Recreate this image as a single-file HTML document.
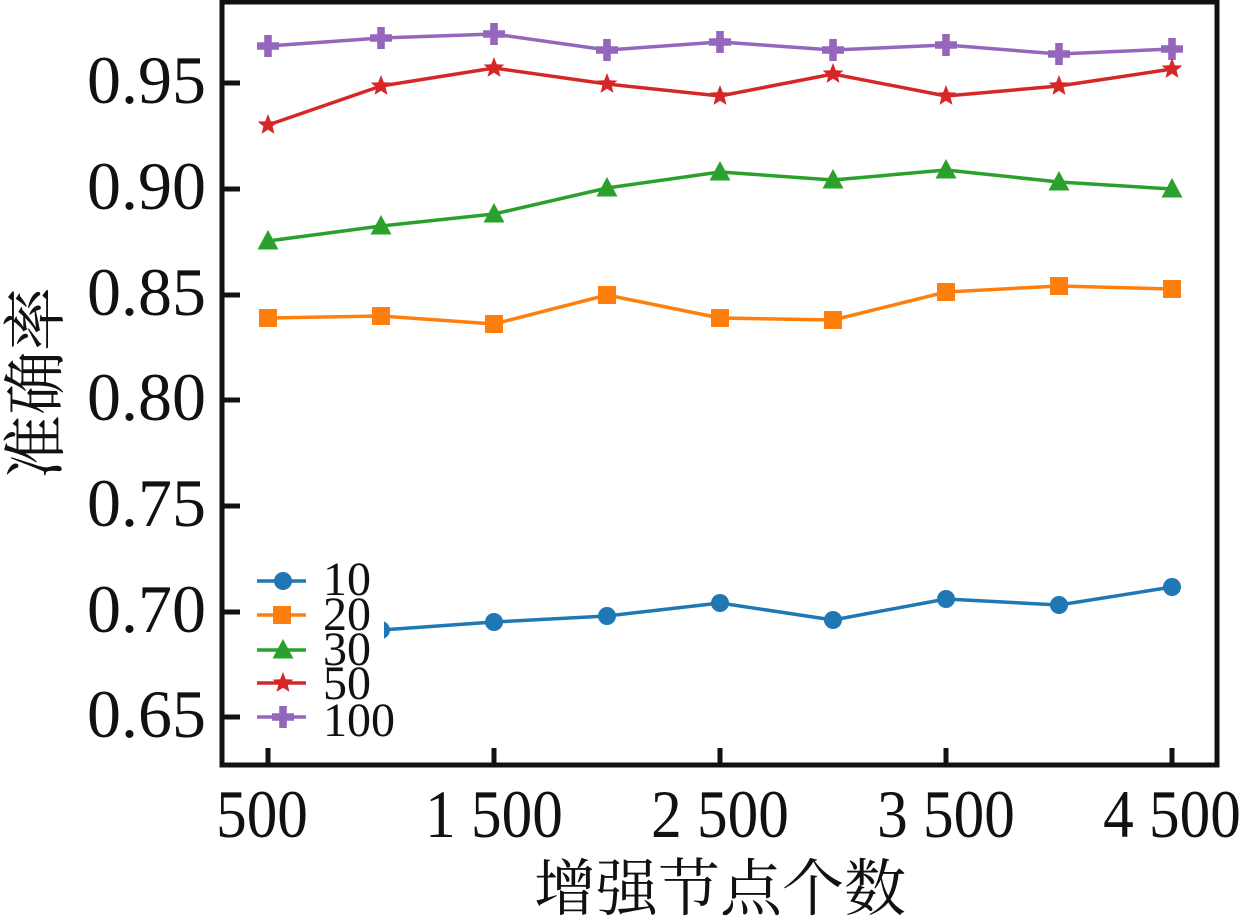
<!DOCTYPE html>
<html><head><meta charset="utf-8"><style>html,body{margin:0;padding:0;background:#fff}svg{display:block}</style></head>
<body>
<svg width="1250" height="919" viewBox="0 0 1250 919" xmlns="http://www.w3.org/2000/svg">
<defs>
<g id="circ"><circle r="9"/></g>
<g id="sq"><rect x="-9" y="-9" width="18" height="18"/></g>
<g id="tri"><polygon points="0,-11 10.5,8.5 -10.5,8.5"/></g>
<g id="star"><polygon points="0,-11 2.8,-3.8 10.4,-3.4 4.6,1.4 6.5,8.9 0,4.7 -6.5,8.9 -4.6,1.4 -10.4,-3.4 -2.8,-3.8"/></g>
<g id="plus"><path d="M-3.8,-11h7.6v7.2h7.2v7.6h-7.2v7.2h-7.6v-7.2h-7.2v-7.6h7.2z"/></g>
</defs>
<g font-family="'Liberation Serif', serif" fill="#111">
<g font-size="68" text-anchor="end">
<text x="206" y="103">0.95</text>
<text x="206" y="209">0.90</text>
<text x="206" y="315">0.85</text>
<text x="206" y="420">0.80</text>
<text x="206" y="526">0.75</text>
<text x="206" y="632">0.70</text>
<text x="206" y="737">0.65</text>
</g>
<g font-size="68" text-anchor="middle">
<text transform="translate(262,837) scale(0.9,1)">500</text>
<text transform="translate(494,837) scale(0.9,1)">1 500</text>
<text transform="translate(720,837) scale(0.9,1)">2 500</text>
<text transform="translate(946,837) scale(0.9,1)">3 500</text>
<text transform="translate(1172,837) scale(0.9,1)">4 500</text>
</g>
</g>
<text x="720" y="910" text-anchor="middle" font-size="62" font-family="'Liberation Serif', 'Noto Serif CJK SC', serif" fill="#111">增强节点个数</text>
<text transform="translate(58,383) rotate(-90)" text-anchor="middle" font-size="64" font-family="'Liberation Serif', 'Noto Serif CJK SC', serif" fill="#111">准确率</text>

<g stroke-width="3.5" fill="none" stroke-linejoin="round">
<polyline stroke="#9467bd" points="268,46 381,38 494,34 607,50 720,42 833,50 946,45 1059,54 1172,49"/>
<polyline stroke="#d62728" points="268,125 381,86 494,68 607,84 720,96 833,74 946,96 1059,86 1172,69"/>
<polyline stroke="#2ca02c" points="268,241 381,226 494,214 607,188 720,172 833,180 946,170 1059,182 1172,189"/>
<polyline stroke="#ff7f0e" points="268,318 381,316 494,324 607,295 720,318 833,320 946,292 1059,286 1172,289"/>
<polyline stroke="#1f77b4" points="268,638 381,630 494,622 607,616 720,603 833,620 946,599 1059,605 1172,587"/>
</g>
<g fill="#9467bd"><use href="#plus" x="268" y="46"/><use href="#plus" x="381" y="38"/><use href="#plus" x="494" y="34"/><use href="#plus" x="607" y="50"/><use href="#plus" x="720" y="42"/><use href="#plus" x="833" y="50"/><use href="#plus" x="946" y="45"/><use href="#plus" x="1059" y="54"/><use href="#plus" x="1172" y="49"/></g>
<g fill="#d62728"><use href="#star" x="268" y="125"/><use href="#star" x="381" y="86"/><use href="#star" x="494" y="68"/><use href="#star" x="607" y="84"/><use href="#star" x="720" y="96"/><use href="#star" x="833" y="74"/><use href="#star" x="946" y="96"/><use href="#star" x="1059" y="86"/><use href="#star" x="1172" y="69"/></g>
<g fill="#2ca02c"><use href="#tri" x="268" y="241"/><use href="#tri" x="381" y="226"/><use href="#tri" x="494" y="214"/><use href="#tri" x="607" y="188"/><use href="#tri" x="720" y="172"/><use href="#tri" x="833" y="180"/><use href="#tri" x="946" y="170"/><use href="#tri" x="1059" y="182"/><use href="#tri" x="1172" y="189"/></g>
<g fill="#ff7f0e"><use href="#sq" x="268" y="318"/><use href="#sq" x="381" y="316"/><use href="#sq" x="494" y="324"/><use href="#sq" x="607" y="295"/><use href="#sq" x="720" y="318"/><use href="#sq" x="833" y="320"/><use href="#sq" x="946" y="292"/><use href="#sq" x="1059" y="286"/><use href="#sq" x="1172" y="289"/></g>
<g fill="#1f77b4"><use href="#circ" x="381" y="630"/><use href="#circ" x="494" y="622"/><use href="#circ" x="607" y="616"/><use href="#circ" x="720" y="603"/><use href="#circ" x="833" y="620"/><use href="#circ" x="946" y="599"/><use href="#circ" x="1059" y="605"/><use href="#circ" x="1172" y="587"/></g>

<rect x="240" y="556" width="144" height="190" fill="#fff"/>
<g stroke-width="3.5">
<line x1="257" y1="581" x2="306" y2="581" stroke="#1f77b4"/>
<line x1="257" y1="615" x2="306" y2="615" stroke="#ff7f0e"/>
<line x1="257" y1="650" x2="306" y2="650" stroke="#2ca02c"/>
<line x1="257" y1="683" x2="306" y2="683" stroke="#d62728"/>
<line x1="257" y1="717" x2="306" y2="717" stroke="#9467bd"/>
</g>
<use href="#circ" x="283" y="581" fill="#1f77b4"/>
<use href="#sq" x="282" y="615" fill="#ff7f0e"/>
<use href="#tri" x="283" y="650" fill="#2ca02c"/>
<use href="#star" x="283" y="683" fill="#d62728"/>
<use href="#plus" x="283" y="717" fill="#9467bd"/>
<g font-family="'Liberation Serif', serif" font-size="48" fill="#111">
<text x="323" y="595">10</text>
<text x="323" y="630">20</text>
<text x="323" y="665">30</text>
<text x="323" y="699">50</text>
<text x="323" y="736">100</text>
</g>

<rect x="222" y="2" width="995" height="763" fill="none" stroke="#111" stroke-width="5"/>
<g stroke="#111" stroke-width="5">
<line x1="222" y1="83" x2="240" y2="83"/><line x1="222" y1="189" x2="240" y2="189"/><line x1="222" y1="295" x2="240" y2="295"/><line x1="222" y1="400" x2="240" y2="400"/><line x1="222" y1="506" x2="240" y2="506"/><line x1="222" y1="612" x2="240" y2="612"/><line x1="222" y1="717" x2="240" y2="717"/>
<line x1="268" y1="765" x2="268" y2="748"/><line x1="494" y1="765" x2="494" y2="748"/><line x1="720" y1="765" x2="720" y2="748"/><line x1="946" y1="765" x2="946" y2="748"/><line x1="1172" y1="765" x2="1172" y2="748"/>
</g>
</svg>
</body></html>
